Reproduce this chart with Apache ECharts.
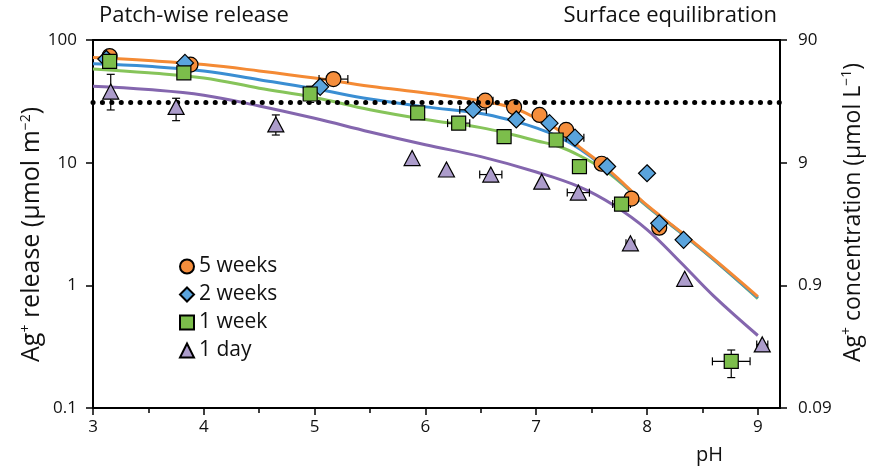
<!DOCTYPE html>
<html>
<head>
<meta charset="utf-8">
<script src="https://cdn.jsdelivr.net/npm/echarts@6/dist/echarts.min.js"></script>
<style>
  html, body { margin: 0; padding: 0; background: #fff; }
  #chart { width: 872px; height: 475px; }
</style>
</head>
<body>
<div id="chart"></div>
<script>
// Measured Ag+ release, [pH, µmol m^-2]
const weeks5 = [[3.15,74],[3.88,63],[5.17,48],[6.54,32],[6.80,28.4],[7.03,24.5],[7.27,18.5],[7.59,9.8],[7.86,5.1],[8.11,2.95]];
const weeks2 = [[3.12,70],[3.83,65],[5.05,41.5],[6.43,27],[6.82,22.5],[7.12,21],[7.35,16],[7.64,9.3],[8.00,8.2],[8.11,3.2],[8.33,2.35]];
const week1  = [[3.15,67],[3.82,54],[4.96,36.3],[5.93,25.5],[6.30,21],[6.71,16.3],[7.18,15.3],[7.39,9.3],[7.77,4.6],[8.76,0.24]];
const day1   = [[3.16,38],[3.75,28.5],[4.65,20.5],[5.88,10.9],[6.19,8.8],[6.59,8.0],[7.05,7.0],[7.38,5.7],[7.85,2.2],[8.34,1.13],[9.04,0.33]];

// Error bars: [pH, value, ±pH, lower, upper] (0 = none)
const err5w  = [[5.17,48,0.13,0,0],[6.54,32,0.07,0,0]];
const err2w  = [[6.43,27,0.12,0,0],[7.35,16,0.08,0,0]];
const err1w  = [[4.96,36.3,0,31,42],[6.30,21,0.10,0,0],[7.77,4.6,0.08,0,0],[8.76,0.24,0.17,0.177,0.297]];
const errDay = [[3.16,38,0,26.9,52.5],[3.75,28.5,0,22,33.5],[4.65,20.5,0,16.8,24.5],[6.59,8.0,0.1,0,0],[7.38,5.7,0.1,0,0],[7.85,2.2,0.04,0,0],[9.04,0.33,0.05,0,0]];

// Model curves, [pH, µmol m^-2]
const fit5w  = [[3.0,72],[3.5,68],[4.0,63],[4.5,56],[5.0,49],[5.5,42],[6.0,37],[6.5,32],[6.8,27.8],[7.0,23],[7.2,18.5],[7.4,13.2],[7.6,9.6],[7.8,6.6],[8.0,4.5],[8.3,2.75],[8.6,1.65],[9.0,0.81]];
const fit2w  = [[3.0,64],[3.5,61],[4.0,56],[4.5,47.5],[5.0,40],[5.5,33],[6.0,28.5],[6.5,25.2],[6.8,21.8],[7.0,19.2],[7.2,16.3],[7.4,12.8],[7.6,9.4],[7.8,6.5],[8.0,4.45],[8.3,2.72],[8.6,1.63],[9.0,0.79]];
const fit1w  = [[3.0,58],[3.5,54],[4.0,49],[4.5,40.5],[5.0,34],[5.5,27],[6.0,22.5],[6.5,19.3],[6.8,16.8],[7.0,15.1],[7.2,13.6],[7.4,11.3],[7.6,8.9],[7.8,6.4],[8.0,4.4],[8.3,2.7],[8.6,1.62],[9.0,0.78]];
const fitDay = [[3.0,42],[3.5,39.5],[4.0,35.5],[4.5,29],[5.0,23],[5.5,17.8],[6.0,14],[6.5,11.2],[7.0,8.4],[7.4,6.3],[7.7,4.5],[8.0,2.85],[8.3,1.55],[8.6,0.82],[9.0,0.39]];

// Patch-wise / surface-equilibration threshold
const threshold = 31;

// Axis ticks
const xMajor = [3,4,5,6,7,8,9];
const xMinor = [3.5,4.5,5.5,6.5,7.5,8.5];
const concFactor = 0.9; // right axis: µmol L^-1 per µmol m^-2

const FONT = '"Open Sans", "Noto Sans", sans-serif';
const INK = '#111';

const errorBars = {
  type: 'custom',
  xAxisIndex: 0, yAxisIndex: 0,
  z: 2,
  silent: true,
  data: [].concat(err5w, err2w, err1w, errDay),
  encode: { x: 0, y: 1 },
  renderItem(params, api) {
    const x = api.value(0), y = api.value(1);
    const dx = api.value(2), lo = api.value(3), hi = api.value(4);
    const cap = 4;
    const style = { stroke: '#000', lineWidth: 1.2, fill: null };
    const children = [];
    if (dx > 0) {
      const a = api.coord([x - dx, y]), b = api.coord([x + dx, y]);
      children.push({ type: 'line', shape: { x1: a[0], y1: a[1], x2: b[0], y2: b[1] }, style });
      children.push({ type: 'line', shape: { x1: a[0], y1: a[1] - cap, x2: a[0], y2: a[1] + cap }, style });
      children.push({ type: 'line', shape: { x1: b[0], y1: b[1] - cap, x2: b[0], y2: b[1] + cap }, style });
    }
    if (lo > 0 && hi > 0) {
      const a = api.coord([x, lo]), b = api.coord([x, hi]);
      children.push({ type: 'line', shape: { x1: a[0], y1: a[1], x2: b[0], y2: b[1] }, style });
      children.push({ type: 'line', shape: { x1: a[0] - cap, y1: a[1], x2: a[0] + cap, y2: a[1] }, style });
      children.push({ type: 'line', shape: { x1: b[0] - cap, y1: b[1], x2: b[0] + cap, y2: b[1] }, style });
    }
    return { type: 'group', children };
  }
};

function curve(name, data, color, z) {
  return {
    name, type: 'line', data, smooth: 0.4, symbol: 'none', silent: true,
    z, lineStyle: { color, width: 3 }, itemStyle: { color }
  };
}

function marks(name, data, symbol, size, color, z) {
  return {
    name, type: 'scatter', data, symbol, symbolSize: size, z,
    itemStyle: { color, borderColor: '#000', borderWidth: 1.2, opacity: 1 }
  };
}

// Vertical axis title, reading bottom to top, starting at (x, y)
function axisTitle(x, y, text, size) {
  return {
    type: 'text', x, y, rotation: Math.PI / 2,
    style: {
      text, fill: INK, font: size + 'px ' + FONT,
      align: 'left', verticalAlign: 'middle',
      rich: { sup: { fontSize: 14, padding: [0, 0, 11, 0], fontFamily: FONT, fill: INK } }
    }
  };
}

const chart = echarts.init(document.getElementById('chart'), null, { renderer: 'canvas' });
chart.setOption({
  animation: false,
  backgroundColor: '#fff',
  textStyle: { fontFamily: FONT, color: INK },
  grid: { left: 93, right: 92, top: 40, bottom: 67 },
  graphic: [
    { type: 'text', left: 99, top: 5, style: { text: 'Patch-wise release', font: '22px ' + FONT, fill: INK } },
    { type: 'text', right: 95, top: 5, style: { text: 'Surface equilibration', font: '22px ' + FONT, fill: INK } },
    { type: 'text', left: 696, top: 445, style: { text: 'pH', font: '20px ' + FONT, fill: INK } },
    axisTitle(32, 362, 'Ag{sup|+} release (µmol m{sup|−2})', 25),
    axisTitle(853, 362, 'Ag{sup|+} concentration (µmol L{sup|−1})', 23)
  ],
  legend: {
    data: ['5 weeks', '2 weeks', '1 week', '1 day'],
    orient: 'vertical', left: 174, top: 251,
    itemWidth: 14, itemHeight: 14, itemGap: 7, itemTextGap: 3,
    textStyle: { fontSize: 21, color: INK, fontFamily: FONT },
    selectedMode: false
  },
  xAxis: [
    {
      type: 'value', min: 3, max: 9.2, position: 'bottom',
      axisLine: { show: true, lineStyle: { color: '#000', width: 2 } },
      axisTick: { show: true, length: 7, lineStyle: { color: '#000', width: 1.5 }, customValues: xMajor },
      axisLabel: { customValues: xMajor, fontSize: 17, color: INK, margin: 11 },
      splitLine: { show: false }
    },
    {
      type: 'value', min: 3, max: 9.2, position: 'bottom',
      axisLine: { show: false },
      axisTick: { show: true, length: 5, lineStyle: { color: '#000', width: 1.5 }, customValues: xMinor },
      axisLabel: { show: false },
      splitLine: { show: false }
    },
    {
      type: 'value', min: 3, max: 9.2, position: 'top',
      axisLine: { show: true, onZero: false, lineStyle: { color: '#000', width: 2 } },
      axisTick: { show: false }, axisLabel: { show: false }, splitLine: { show: false }
    }
  ],
  yAxis: [
    {
      type: 'log', logBase: 10, min: 0.1, max: 100, position: 'left',
      axisLine: { show: true, lineStyle: { color: '#000', width: 2 } },
      axisTick: { show: true, length: 7, lineStyle: { color: '#000', width: 1.5 } },
      axisLabel: { fontSize: 17, color: INK, margin: 16 },
      minorTick: { show: false },
      splitLine: { show: false }
    },
    {
      type: 'log', logBase: 10, min: 0.1, max: 100, position: 'right',
      axisLine: { show: true, lineStyle: { color: '#000', width: 2 } },
      axisTick: { show: true, length: 7, lineStyle: { color: '#000', width: 1.5 } },
      axisLabel: {
        fontSize: 17, color: INK, margin: 18,
        formatter: v => String(+(v * concFactor).toPrecision(2))
      },
      splitLine: { show: false }
    }
  ],
  series: [
    curve('1 day fit', fitDay, '#8466AE', 1),
    curve('1 week fit', fit1w, '#86C45A', 1),
    curve('2 weeks fit', fit2w, '#3A8ED3', 1),
    curve('5 weeks fit', fit5w, '#F48A34', 1),
    {
      name: 'threshold', type: 'line', silent: true, symbol: 'none', z: 1,
      data: [],
      markLine: {
        silent: true, symbol: 'none', label: { show: false },
        lineStyle: { color: '#000', width: 5, type: [0.1, 9.3], cap: 'round' },
        data: [{ yAxis: threshold }]
      }
    },
    errorBars,
    marks('5 weeks', weeks5, 'circle', 15, '#F58E3C', 3),
    marks('2 weeks', weeks2, 'diamond', 17, '#5AA4DD', 4),
    marks('1 week', week1, 'rect', 14, '#7CBE4B', 5),
    marks('1 day', day1, 'triangle', [16, 15], '#AC9CCB', 6)
  ]
});
</script>
</body>
</html>
